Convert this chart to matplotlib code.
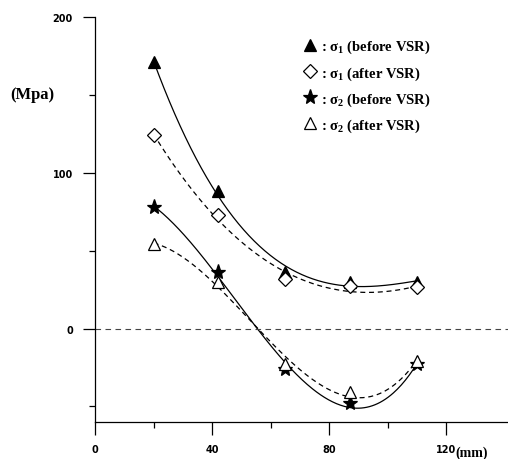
import numpy as np
import matplotlib
matplotlib.use("Agg")
import matplotlib.pyplot as plt
from matplotlib.lines import Line2D
from matplotlib.ticker import FixedLocator

plt.rcParams['mathtext.fontset'] = 'custom'
plt.rcParams['mathtext.rm'] = 'Liberation Serif:bold'
plt.rcParams['mathtext.default'] = 'rm'

x = [20, 42, 65, 87, 110]
s1_before = [171, 88, 36, 30, 30]
s1_after = [124, 73, 31.5, 27, 26.5]
s2_before = [78, 36, -26, -48, -23]
s2_after = [54, 30, -23, -40.5, -21]
labels = [': σ$_1$ (before VSR)', ': σ$_1$ (after VSR)',
          ': σ$_2$ (before VSR)', ': σ$_2$ (after VSR)']
xticks = [0, 40, 80, 120]
yticks = [0, 100, 200]

fig = plt.figure(figsize=(5.08, 4.6), dpi=100)
ax = fig.add_axes([95/508, 1-423/460, 1-95/508, (423-18)/460])
ax.set_xlim(0, 141)
ax.set_ylim(-60, 200)

xs = np.linspace(min(x), max(x), 200)
series = [
    (s1_before, '^', 'black', 'black', '-', 9),
    (s1_after, 'D', 'white', 'black', (0, (4, 3)), 7),
    (s2_before, '*', 'black', 'black', '-', 11),
    (s2_after, '^', 'white', 'black', (0, (4, 3)), 9),
]
handles = []
for ys, mk, fc, ec, ls, ms in series:
    c = np.polyfit(x, ys, 3)
    ax.plot(xs, np.polyval(c, xs), color='black', lw=0.9, ls=ls)
    ax.plot(x, ys, ls='none', marker=mk, mfc=fc, mec=ec, ms=ms, mew=0.9, zorder=3)
    handles.append(Line2D([], [], ls='none', marker=mk, mfc=fc, mec=ec, ms=ms, mew=0.9))

ax.axhline(0, color='#444444', lw=0.8, ls=(0, (5, 4)))

for s in ['top', 'right']:
    ax.spines[s].set_visible(False)
for s in ['left', 'bottom']:
    ax.spines[s].set_linewidth(0.9)

ax.set_xticks(xticks)
ax.set_yticks(yticks)
ax.xaxis.set_minor_locator(FixedLocator([20, 60, 100]))
ax.yaxis.set_minor_locator(FixedLocator([-50, 50, 150]))
ax.tick_params(which='major', direction='out', length=9, width=0.9, pad=7, labelsize=7)
ax.tick_params(which='minor', direction='out', length=4, width=0.9)
for lab in ax.get_xticklabels() + ax.get_yticklabels():
    lab.set_fontweight('bold')
    lab.set_family('DejaVu Sans')

fig.text(10/508, 1-95/460, '(Mpa)', family='Liberation Serif', fontsize=12,
         fontweight='bold', va='center', ha='left')
fig.text(455/508, 1-453/460, '(mm)', family='Liberation Serif', fontsize=10,
         fontweight='bold', va='center', ha='left')

leg = ax.legend(handles, labels, loc='upper left', bbox_to_anchor=(290/508, 1-26/460),
                bbox_transform=fig.transFigure, frameon=False, handlelength=1.0,
                handletextpad=0.2, labelspacing=0.6,
                prop={'family': 'Liberation Serif', 'size': 10.5, 'weight': 'bold'})

fig.savefig('out.png', dpi=100)
